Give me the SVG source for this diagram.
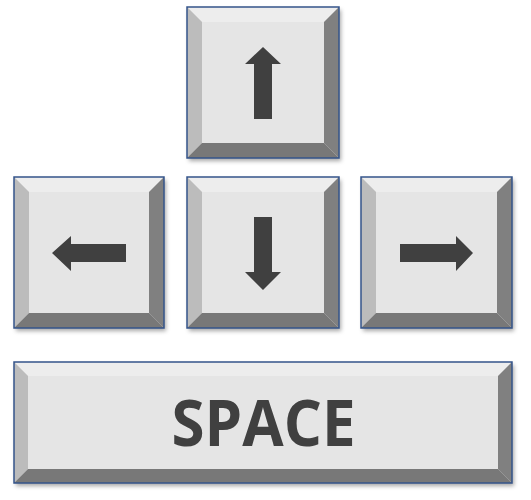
<svg xmlns="http://www.w3.org/2000/svg" width="531" height="500" viewBox="0 0 531 500">
<defs>
<filter id="sh" x="-10%" y="-10%" width="125%" height="130%">
<feDropShadow dx="2" dy="3" stdDeviation="2" flood-color="#000" flood-opacity="0.35"/>
</filter>
<style>
.base{fill:#e4e4e4;filter:url(#sh)}
.t{fill:#ededed}
.l{fill:#bcbcbc}
.r{fill:#808080}
.b{fill:#787878}
.f{fill:#e5e5e5}
.o{fill:none;stroke:#34548a;stroke-width:1.5}
.ar{fill:#404040}
.lbl{font-family:"Open Sans","Liberation Sans",sans-serif;font-weight:bold;font-size:64px;fill:#404040;text-anchor:middle}
</style>
</defs>
<rect width="531" height="500" fill="#fff"/>
<g id="key-up">
<rect class="base" x="187" y="7" width="152" height="151"/>
<polygon class="t" points="187,7 339,7 324,22 202,22"/>
<polygon class="l" points="187,7 202,22 202,143 187,158"/>
<polygon class="r" points="339,7 339,158 324,143 324,22"/>
<polygon class="b" points="187,158 202,143 324,143 339,158"/>
<rect class="f" x="202" y="22" width="122" height="121"/>
<rect class="o" x="187" y="7" width="152" height="151"/>
<polygon class="ar" points="263,47 281,64 272,64 272,119 254,119 254,64 245,64"/>
</g>
<g id="key-left">
<rect class="base" x="14" y="177" width="150" height="151"/>
<polygon class="t" points="14,177 164,177 149,192 29,192"/>
<polygon class="l" points="14,177 29,192 29,313 14,328"/>
<polygon class="r" points="164,177 164,328 149,313 149,192"/>
<polygon class="b" points="14,328 29,313 149,313 164,328"/>
<rect class="f" x="29" y="192" width="120" height="121"/>
<rect class="o" x="14" y="177" width="150" height="151"/>
<polygon class="ar" points="52,253 71,236 71,244 126,244 126,262 71,262 71,271"/>
</g>
<g id="key-down">
<rect class="base" x="187" y="177" width="152" height="151"/>
<polygon class="t" points="187,177 339,177 324,192 202,192"/>
<polygon class="l" points="187,177 202,192 202,313 187,328"/>
<polygon class="r" points="339,177 339,328 324,313 324,192"/>
<polygon class="b" points="187,328 202,313 324,313 339,328"/>
<rect class="f" x="202" y="192" width="122" height="121"/>
<rect class="o" x="187" y="177" width="152" height="151"/>
<polygon class="ar" points="254,217 272,217 272,272 281,272 263,290 245,272 254,272"/>
</g>
<g id="key-right">
<rect class="base" x="361" y="177" width="151" height="151"/>
<polygon class="t" points="361,177 512,177 497,192 376,192"/>
<polygon class="l" points="361,177 376,192 376,313 361,328"/>
<polygon class="r" points="512,177 512,328 497,313 497,192"/>
<polygon class="b" points="361,328 376,313 497,313 512,328"/>
<rect class="f" x="376" y="192" width="121" height="121"/>
<rect class="o" x="361" y="177" width="151" height="151"/>
<polygon class="ar" points="400,244 456,244 456,236 473,253 456,271 456,262 400,262"/>
</g>
<g id="key-space">
<rect class="base" x="14" y="362" width="498" height="121"/>
<polygon class="t" points="14,362 512,362 498,376 28,376"/>
<polygon class="l" points="14,362 28,376 28,469 14,483"/>
<polygon class="r" points="512,362 512,483 498,469 498,376"/>
<polygon class="b" points="14,483 28,469 498,469 512,483"/>
<rect class="f" x="28" y="376" width="470" height="93"/>
<rect class="o" x="14" y="362" width="498" height="121"/>
<text class="lbl" x="263.5" y="446" textLength="184" lengthAdjust="spacingAndGlyphs">SPACE</text>
</g>
</svg>
